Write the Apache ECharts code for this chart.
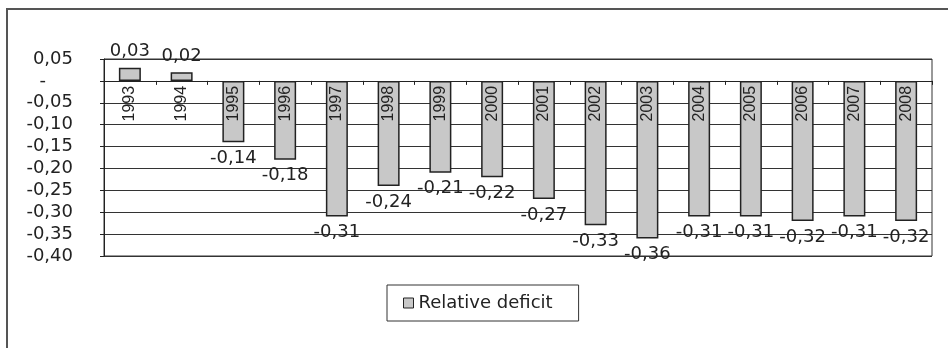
<!DOCTYPE html>
<html>
<head>
<meta charset="utf-8">
<script src="https://cdn.jsdelivr.net/npm/echarts@6/dist/echarts.min.js"></script>
<style>
html,body{margin:0;padding:0;background:#fff;}
#chart{width:948px;height:348px;}
</style>
</head>
<body>
<div id="chart"></div>
<script>
var years = ['1993','1994','1995','1996','1997','1998','1999','2000','2001','2002','2003','2004','2005','2006','2007','2008'];
var relativeDeficit = [0.03, 0.02, -0.14, -0.18, -0.31, -0.24, -0.21, -0.22, -0.27, -0.33, -0.36, -0.31, -0.31, -0.32, -0.31, -0.32];
var seriesName = 'Relative deficit';
var yMin = -0.40, yMax = 0.05, yStep = 0.05;

function fmt(v) {
  if (Math.abs(v) < 1e-9) return '{z|-}';
  return v.toFixed(2).replace('.', ',');
}

var gridTop = 59, gridBottom = 92, chartH = 348;
var gridH = chartH - gridTop - gridBottom;
var zeroOffset = gridH * yMax / (yMax - yMin);

var chart = echarts.init(document.getElementById('chart'), null, {renderer: 'canvas'});
chart.setOption({
  animation: false,
  backgroundColor: '#ffffff',
  textStyle: {fontFamily: 'DejaVu Sans', color: '#222'},
  graphic: [{
    type: 'rect',
    shape: {x: 7, y: 9, width: 980, height: 380},
    style: {fill: 'none', stroke: '#555', lineWidth: 2},
    silent: true, z: -1
  }],
  grid: {
    left: 104, top: gridTop, right: 16, bottom: gridBottom,
    show: true, borderColor: '#333', borderWidth: 1
  },
  legend: {
    data: [seriesName],
    left: 387, top: 285,
    padding: [9, 26, 9, 16],
    borderColor: '#333', borderWidth: 1,
    itemWidth: 10, itemHeight: 10, itemGap: 6,
    icon: 'rect',
    itemStyle: {color: '#c8c8c8', borderColor: '#222', borderWidth: 1},
    textStyle: {fontFamily: 'DejaVu Sans', fontSize: 18, color: '#222'}
  },
  xAxis: [{
    type: 'category',
    data: years,
    boundaryGap: true,
    axisLine: {onZero: true, lineStyle: {color: '#222', width: 1}},
    axisTick: {show: true, length: 4, lineStyle: {color: '#222'}},
    axisLabel: {show: false},
    splitLine: {show: false}
  }, {
    type: 'category',
    data: years,
    position: 'top',
    offset: -zeroOffset,
    z: 10,
    boundaryGap: true,
    axisLine: {show: false, onZero: false},
    axisTick: {show: false},
    axisLabel: {
      show: true, inside: true,
      interval: 0, rotate: -90, margin: 5,
      fontFamily: 'Liberation Sans', fontSize: 16, color: '#222'
    },
    splitLine: {show: false}
  }],
  yAxis: {
    type: 'value',
    min: yMin, max: yMax, interval: yStep,
    axisLine: {show: true, lineStyle: {color: '#222', width: 1}},
    axisTick: {show: true, length: 4, lineStyle: {color: '#222'}},
    axisLabel: {
      margin: 31,
      fontFamily: 'DejaVu Sans', fontSize: 18, color: '#222',
      formatter: fmt,
      rich: {z: {fontFamily: 'DejaVu Sans', fontSize: 18, color: '#222', padding: [0, 27, 0, 0]}}
    },
    splitLine: {show: true, lineStyle: {color: '#333', width: 1}}
  },
  series: [{
    name: seriesName,
    type: 'bar',
    xAxisIndex: 0,
    data: relativeDeficit,
    barWidth: 22,
    z: 2,
    itemStyle: {color: '#c8c8c8', borderColor: '#222', borderWidth: 1.5},
    label: {
      show: true, position: 'outside', distance: 7,
      fontFamily: 'DejaVu Sans', fontSize: 18, color: '#222',
      formatter: function (p) { return p.value.toFixed(2).replace('.', ','); }
    }
  }]
});
</script>
</body>
</html>
